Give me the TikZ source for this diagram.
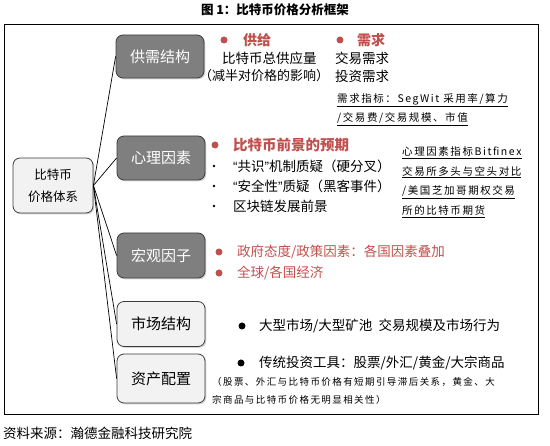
\documentclass[tikz,border=0pt]{standalone}
\usepackage{fontspec}
\setmainfont{Noto Sans CJK SC}
\newfontfamily\fsf[LetterSpace=15]{Noto Sans CJK SC}
\newfontfamily\qf{Liberation Sans}
\newcommand{\myLQ}{{\qf “}}
\newcommand{\myRQ}{{\qf ”}}
\usetikzlibrary{shadows}
\definecolor{myred}{RGB}{192,80,77}
\definecolor{boxdark}{RGB}{127,127,127}
\definecolor{boxlight}{RGB}{242,242,242}
\definecolor{edgec}{RGB}{60,60,60}
\begin{document}
\begin{tikzpicture}[x=1pt,y=-1pt,
  shad/.style={drop shadow={opacity=0.35, shadow xshift=1.3pt, shadow yshift=-1.3pt}},
  dbox/.style={draw=edgec, line width=0.8pt, rounded corners=7pt, fill=boxdark, text=white,
    font=\fontsize{15}{15}\selectfont, minimum width=88pt, inner sep=0pt, shad},
  lbox/.style={draw=edgec, line width=0.8pt, rounded corners=7pt, fill=boxlight, text=black,
    font=\fontsize{15}{15}\selectfont, minimum width=88pt, inner sep=0pt, shad},
  rdot/.style={circle, fill=myred, inner sep=0pt, minimum size=7pt},
  bdot/.style={circle, fill=black, inner sep=0pt, minimum size=7pt},
  sdot/.style={circle, fill=black, inner sep=0pt, minimum size=2.6pt},
  txt/.style={anchor=west, inner sep=0pt, font=\fontsize{13.5}{13.5}\selectfont},
  rtxt/.style={txt, text=myred},
  small/.style={anchor=west, inner sep=0pt, font=\fsf\fontsize{10.5}{10.5}\selectfont},
  tiny/.style={anchor=west, inner sep=0pt, font=\fsf\fontsize{9.5}{9.5}\selectfont},
  conn/.style={draw=black, line width=0.7pt}
]
\useasboundingbox (0,0) rectangle (550,446);
% title and frame
\node[font=\fontsize{12.5}{12.5}\selectfont\bfseries] (title) at (275,10) {图 1：比特币价格分析框架};
\draw[line width=0.9pt] (4,24) rectangle (538,414);
\node[anchor=west, inner sep=0pt, font=\fontsize{13.5}{13.5}\selectfont] (src) at (3,433) {资料来源：瀚德金融科技研究院};

% root
\node[lbox, minimum width=80pt, minimum height=55pt, align=center,
  font=\fontsize{12.5}{22}\selectfont] (root) at (53,185.5) {比特币\\价格体系};

% level boxes
\node[dbox, minimum height=43pt] (gx) at (160,56.5) {供需结构};
\node[dbox, minimum height=44pt] (xl) at (161,158) {心理因素};
\node[dbox, minimum height=45pt] (hg) at (161,255.5) {宏观因子};
\node[lbox, minimum height=45pt] (sc) at (161,324) {市场结构};
\node[lbox, minimum height=49pt] (zc) at (161,378.5) {资产配置};

% connectors
\draw[conn] (root.east) -- (gx.west);
\draw[conn] (root.east) -- (xl.west);
\draw[conn] (root.east) -- (hg.west);
\draw[conn] (root.east) -- (sc.west);
\draw[conn] (root.east) -- (zc.west);

% row 1
\node[rdot] (d1) at (224,40) {};
\node[rtxt, font=\fontsize{14}{14}\selectfont\bfseries] (gg) at (243,40) {供给};
\node[rdot] (d2) at (340,40) {};
\node[rtxt, font=\fontsize{14}{14}\selectfont\bfseries] (xq) at (357,40) {需求};
\node[txt] (zgy) at (222,58) {比特币总供应量};
\node[txt, font=\fontsize{13}{13}\selectfont] (jb) at (199,76) {（减半对价格的影响）};
\node[txt] (jyxq) at (335,58) {交易需求};
\node[txt] (tzxq) at (335,76) {投资需求};
\node[small] (zb1) at (337,100) {\underline{需求指标：SegWit 采用率/算力}};
\node[small] (zb2) at (337,119) {\underline{/交易费/交易规模、市值}};

% row 2
\node[rdot] (d3) at (215,145) {};
\node[rtxt, font=\fontsize{14.5}{14.5}\selectfont\bfseries] (qj) at (233,145) {比特币前景的预期};
\node[sdot] (s1) at (214,166) {};
\node[txt] (gs) at (233,166) {\myLQ 共识\myRQ 机制质疑（硬分叉）};
\node[sdot] (s2) at (214,186) {};
\node[txt] (aq) at (233,186) {\myLQ 安全性\myRQ 质疑（黑客事件）};
\node[sdot] (s3) at (214,206) {};
\node[txt] (qkl) at (233,206) {区块链发展前景};
\node[small] (p1) at (402,153) {\underline{心理因素指标Bitfinex}};
\node[small] (p2) at (402,172) {\underline{交易所多头与空头对比}};
\node[small] (p3) at (402,192) {\underline{/美国芝加哥期权交易}};
\node[small] (p4) at (402,212) {\underline{所的比特币期货}};

% row 3
\node[rdot] (d4) at (219,252) {};
\node[rtxt] (zf) at (237,252) {政府态度/政策因素：各国因素叠加};
\node[rdot] (d5) at (219,273) {};
\node[rtxt] (qq) at (237,273) {全球/各国经济};

% row 4
\node[bdot] (d6) at (242,326) {};
\node[txt] (dx) at (259,326) {大型市场/大型矿池\ \ 交易规模及市场行为};

% row 5
\node[bdot] (d7) at (241,363) {};
\node[txt] (ct) at (259,363) {传统投资工具：股票/外汇/黄金/大宗商品};
\node[tiny] (n1) at (212,382) {（股票、外汇与比特币价格有短期引导滞后关系，黄金、大};
\node[tiny] (n2) at (212,400) {宗商品与比特币价格无明显相关性）};
\end{tikzpicture}
\end{document}
